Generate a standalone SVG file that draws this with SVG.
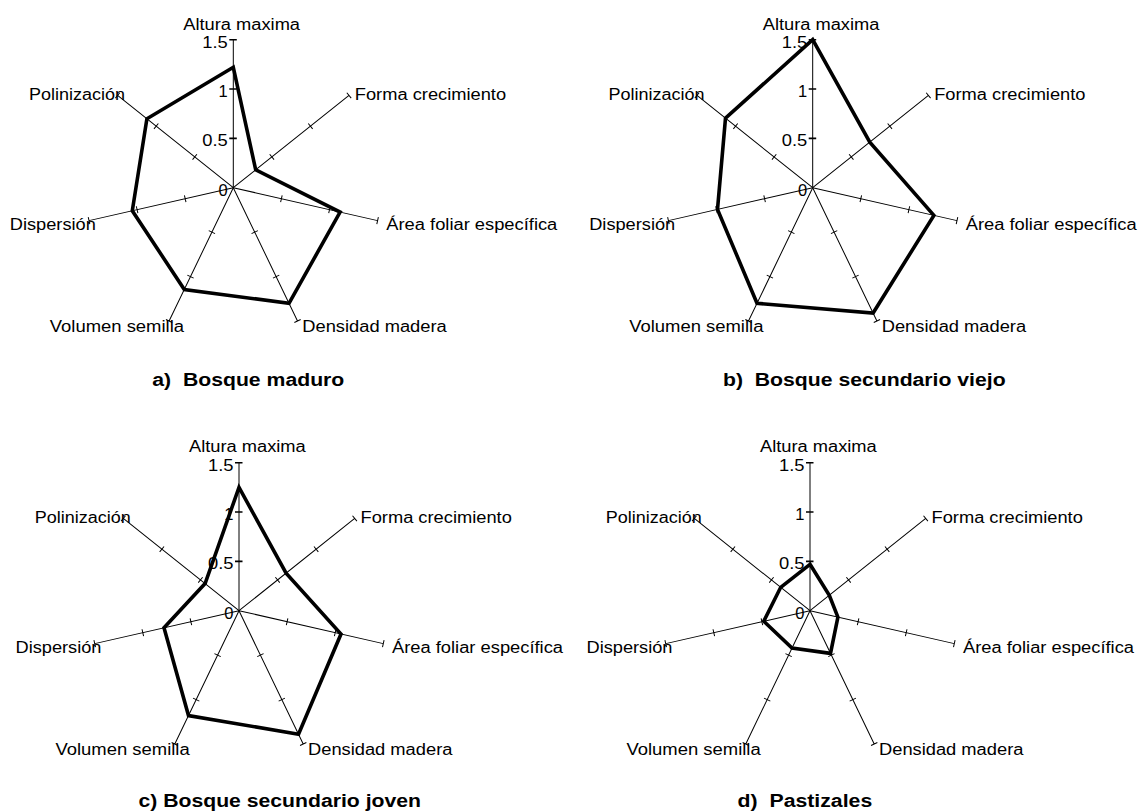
<svg xmlns="http://www.w3.org/2000/svg" width="1138" height="811" viewBox="0 0 1138 811">
<style>
text{font-family:"Liberation Sans",Arial,sans-serif;fill:#000}
.lbl{font-size:16px}
.num{font-size:16.5px;text-anchor:end}
.ttl{font-size:18px;font-weight:bold}
.data{fill:none;stroke:#000;stroke-width:3.6;stroke-linejoin:miter}
</style>
<defs>
<path id="axis" d="M0,0H148M49.33,-3.5V3.5M98.67,-3.5V3.5M148,-3.5V3.5" fill="none" stroke="#000" stroke-width="1"/>
<g id="frame">
<use href="#axis" transform="rotate(-38.571)"/>
<use href="#axis" transform="rotate(12.857)"/>
<use href="#axis" transform="rotate(64.286)"/>
<use href="#axis" transform="rotate(115.714)"/>
<use href="#axis" transform="rotate(167.143)"/>
<use href="#axis" transform="rotate(218.571)"/>
<path d="M0,0V-148" fill="none" stroke="#000" stroke-width="1"/>
<path d="M-4,-148H3.5M-4,-98.67H3.5M-4,-49.33H3.5" fill="none" stroke="#000" stroke-width="1.6"/>
</g>
</defs>

<g id="chart-a" transform="translate(233.3,187.7)">
<use href="#frame"/>
<text class="num" x="-5.5" y="-140" textLength="25.5" lengthAdjust="spacingAndGlyphs">1.5</text>
<text class="num" x="-5.5" y="-90.7">1</text>
<text class="num" x="-5.5" y="-41.3" textLength="25.5" lengthAdjust="spacingAndGlyphs">0.5</text>
<text class="num" x="-5.5" y="8">0</text>
<polygon class="data" points="0,-120.4 22.4,-17.8 106.8,24.4 55.7,115.6 -49,101.8 -101,23.1 -86.4,-68.9"/>
<text class="lbl" x="-50" y="-158" textLength="116.7" lengthAdjust="spacingAndGlyphs">Altura maxima</text>
<text class="lbl" x="121.5" y="-88" textLength="151.3" lengthAdjust="spacingAndGlyphs">Forma crecimiento</text>
<text class="lbl" x="-204.3" y="-88" textLength="96" lengthAdjust="spacingAndGlyphs">Polinización</text>
<text class="lbl" x="153" y="42.5" textLength="171" lengthAdjust="spacingAndGlyphs">Área foliar específica</text>
<text class="lbl" x="-223.5" y="42.5" textLength="86" lengthAdjust="spacingAndGlyphs">Dispersión</text>
<text class="lbl" x="-183.5" y="144.5" textLength="134.2" lengthAdjust="spacingAndGlyphs">Volumen semilla</text>
<text class="lbl" x="69" y="144.5" textLength="144.4" lengthAdjust="spacingAndGlyphs">Densidad madera</text>
<text class="ttl" x="-81" y="198.3" textLength="192" lengthAdjust="spacingAndGlyphs" xml:space="preserve">a)  Bosque maduro</text>
</g>

<g id="chart-b" transform="translate(812.7,187.7)">
<use href="#frame"/>
<text class="num" x="-5.5" y="-140" textLength="25.5" lengthAdjust="spacingAndGlyphs">1.5</text>
<text class="num" x="-5.5" y="-90.7">1</text>
<text class="num" x="-5.5" y="-41.3" textLength="25.5" lengthAdjust="spacingAndGlyphs">0.5</text>
<text class="num" x="-5.5" y="8">0</text>
<polygon class="data" points="0,-148 57.1,-45.5 121.2,27.7 60.4,125.3 -55.7,115.6 -95.2,21.7 -87.2,-69.5"/>
<text class="lbl" x="-50" y="-158" textLength="116.7" lengthAdjust="spacingAndGlyphs">Altura maxima</text>
<text class="lbl" x="121.5" y="-88" textLength="151.3" lengthAdjust="spacingAndGlyphs">Forma crecimiento</text>
<text class="lbl" x="-204.3" y="-88" textLength="96" lengthAdjust="spacingAndGlyphs">Polinización</text>
<text class="lbl" x="153" y="42.5" textLength="171" lengthAdjust="spacingAndGlyphs">Área foliar específica</text>
<text class="lbl" x="-223.5" y="42.5" textLength="86" lengthAdjust="spacingAndGlyphs">Dispersión</text>
<text class="lbl" x="-183.5" y="144.5" textLength="134.2" lengthAdjust="spacingAndGlyphs">Volumen semilla</text>
<text class="lbl" x="69" y="144.5" textLength="144.4" lengthAdjust="spacingAndGlyphs">Densidad madera</text>
<text class="ttl" x="-89.7" y="198.8" textLength="282.6" lengthAdjust="spacingAndGlyphs" xml:space="preserve">b)  Bosque secundario viejo</text>
</g>

<g id="chart-c" transform="translate(239,610.7)">
<use href="#frame"/>
<text class="num" x="-5.5" y="-140" textLength="25.5" lengthAdjust="spacingAndGlyphs">1.5</text>
<text class="num" x="-5.5" y="-90.7">1</text>
<text class="num" x="-5.5" y="-41.3" textLength="25.5" lengthAdjust="spacingAndGlyphs">0.5</text>
<text class="num" x="-5.5" y="8">0</text>
<polygon class="data" points="0,-123.3 47.1,-37.5 102,23.3 59.5,123.5 -50.5,104.9 -75,17.1 -33.9,-27.1"/>
<text class="lbl" x="-50" y="-159" textLength="116.7" lengthAdjust="spacingAndGlyphs">Altura maxima</text>
<text class="lbl" x="121.5" y="-88" textLength="151.3" lengthAdjust="spacingAndGlyphs">Forma crecimiento</text>
<text class="lbl" x="-204.3" y="-88" textLength="96" lengthAdjust="spacingAndGlyphs">Polinización</text>
<text class="lbl" x="153" y="42" textLength="171" lengthAdjust="spacingAndGlyphs">Área foliar específica</text>
<text class="lbl" x="-223.5" y="42" textLength="86" lengthAdjust="spacingAndGlyphs">Dispersión</text>
<text class="lbl" x="-183.5" y="144.3" textLength="134.2" lengthAdjust="spacingAndGlyphs">Volumen semilla</text>
<text class="lbl" x="69" y="144.3" textLength="144.4" lengthAdjust="spacingAndGlyphs">Densidad madera</text>
<text class="ttl" x="-100.5" y="196.3" textLength="282.5" lengthAdjust="spacingAndGlyphs">c) Bosque secundario joven</text>
</g>

<g id="chart-d" transform="translate(810,610.7)">
<use href="#frame"/>
<text class="num" x="-5.5" y="-140" textLength="25.5" lengthAdjust="spacingAndGlyphs">1.5</text>
<text class="num" x="-5.5" y="-90.7">1</text>
<text class="num" x="-5.5" y="-41.3" textLength="25.5" lengthAdjust="spacingAndGlyphs">0.5</text>
<text class="num" x="-5.5" y="8">0</text>
<polygon class="data" points="0,-46.4 19.3,-15.4 27.9,6.4 20.5,42.7 -18,37.3 -46.2,10.5 -29.3,-23.4"/>
<text class="lbl" x="-50" y="-159" textLength="116.7" lengthAdjust="spacingAndGlyphs">Altura maxima</text>
<text class="lbl" x="121.5" y="-88" textLength="151.3" lengthAdjust="spacingAndGlyphs">Forma crecimiento</text>
<text class="lbl" x="-204.3" y="-88" textLength="96" lengthAdjust="spacingAndGlyphs">Polinización</text>
<text class="lbl" x="153" y="42" textLength="171" lengthAdjust="spacingAndGlyphs">Área foliar específica</text>
<text class="lbl" x="-223.5" y="42" textLength="86" lengthAdjust="spacingAndGlyphs">Dispersión</text>
<text class="lbl" x="-183.5" y="144.3" textLength="134.2" lengthAdjust="spacingAndGlyphs">Volumen semilla</text>
<text class="lbl" x="69" y="144.3" textLength="144.4" lengthAdjust="spacingAndGlyphs">Densidad madera</text>
<text class="ttl" x="-72.4" y="196.3" textLength="134.6" lengthAdjust="spacingAndGlyphs" xml:space="preserve">d)  Pastizales</text>
</g>
</svg>
